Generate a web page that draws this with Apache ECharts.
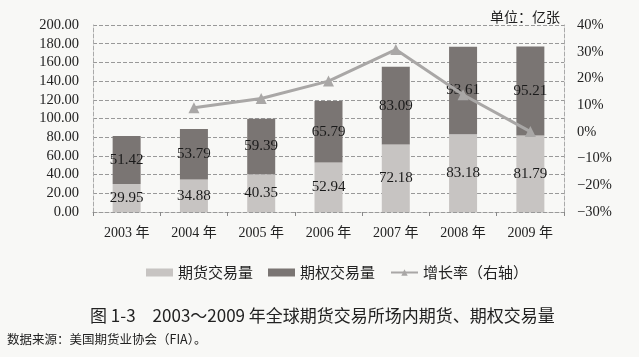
<!DOCTYPE html>
<html><head><meta charset="utf-8">
<script src="https://cdn.jsdelivr.net/npm/echarts@6/dist/echarts.min.js"></script>
<style>html,body{margin:0;padding:0;background:#f8f8f6;}#c{width:639px;height:357px;}</style>
</head><body><div id="c"></div>
<script>
const categories = ['2003 年','2004 年','2005 年','2006 年','2007 年','2008 年','2009 年'];
const futuresVolume = [29.95, 34.88, 40.35, 52.94, 72.18, 83.18, 81.79];
const optionsVolume = [51.42, 53.79, 59.39, 65.79, 83.09, 93.61, 95.21];
const growthRate = [null, 9.0, 12.5, 19.0, 30.8, 13.9, 0.1];
const leftTicks = {min: 0, max: 200, interval: 20};
const rightTicks = {min: -30, max: 40, interval: 10};

const serif = '"Liberation Serif","DejaVu Serif","Noto Sans CJK SC",serif';
const chart = echarts.init(document.getElementById('c'));
chart.setOption({
  backgroundColor: '#f8f8f6',
  animation: false,
  grid: {left: 93, right: 75, top: 25, bottom: 145},
  title: [
    {text: '单位：亿张', right: 74, top: 5, textStyle: {fontFamily: '"Noto Sans CJK SC"', fontSize: 14, fontWeight: 'normal', color: '#222'}},
    {text: '图 1-3　2003～2009 年全球期货交易所场内期货、期权交易量', left: 85, top: 302, textStyle: {fontFamily: '"Noto Sans CJK SC"', fontSize: 17, fontWeight: 'normal', color: '#222'}},
    {text: '数据来源：美国期货业协会（FIA）。', left: 2, top: 328, textStyle: {fontFamily: '"Noto Sans CJK SC"', fontSize: 12.5, fontWeight: 'normal', color: '#222'}}
  ],
  legend: {
    top: 260, left: 141, itemGap: 15, itemWidth: 27, itemHeight: 8,
    textStyle: {fontFamily: '"Noto Sans CJK SC"', fontSize: 15, color: '#222'},
    data: [
      {name: '期货交易量', icon: 'rect'},
      {name: '期权交易量', icon: 'rect'},
      {name: '增长率（右轴）'}
    ]
  },
  xAxis: {
    type: 'category', data: categories,
    axisLine: {lineStyle: {color: '#999', type: 'dashed'}},
    axisTick: {show: true, alignWithLabel: false, length: 4, lineStyle: {color: '#888'}},
    axisLabel: {fontFamily: serif, fontSize: 14, color: '#222', margin: 14}
  },
  yAxis: [
    {type: 'value', min: leftTicks.min, max: leftTicks.max, interval: leftTicks.interval,
     axisLine: {show: true, lineStyle: {color: '#aaa', type: 'dashed'}},
     axisTick: {show: false},
     splitLine: {lineStyle: {color: '#999', type: 'dashed'}},
     axisLabel: {fontFamily: serif, fontSize: 14.5, color: '#222', margin: 14, formatter: v => v.toFixed(2)}},
    {type: 'value', min: rightTicks.min, max: rightTicks.max, interval: rightTicks.interval,
     axisLine: {show: true, lineStyle: {color: '#aaa', type: 'dashed'}},
     axisTick: {show: false},
     splitLine: {show: false},
     axisLabel: {fontFamily: serif, fontSize: 14.5, color: '#222', margin: 13, formatter: v => (v < 0 ? '−' + (-v) : v) + '%'}}
  ],
  series: [
    {name: '期货交易量', type: 'bar', stack: 'v', data: futuresVolume, barWidth: 28,
     itemStyle: {color: '#c7c4c2'},
     label: {show: true, position: 'inside', fontFamily: serif, fontSize: 15, color: '#1a1a1a', formatter: p => p.value.toFixed(2)}},
    {name: '期权交易量', type: 'bar', stack: 'v', data: optionsVolume, barWidth: 28,
     itemStyle: {color: '#7a7573'},
     label: {show: true, position: 'inside', fontFamily: serif, fontSize: 15, color: '#1a1a1a', formatter: p => p.value.toFixed(2)}},
    {name: '增长率（右轴）', type: 'line', yAxisIndex: 1, data: growthRate,
     symbol: 'triangle', symbolSize: 11,
     lineStyle: {color: '#a9a7a6', width: 3}, itemStyle: {color: '#a9a7a6'}}
  ]
});
</script></body></html>
